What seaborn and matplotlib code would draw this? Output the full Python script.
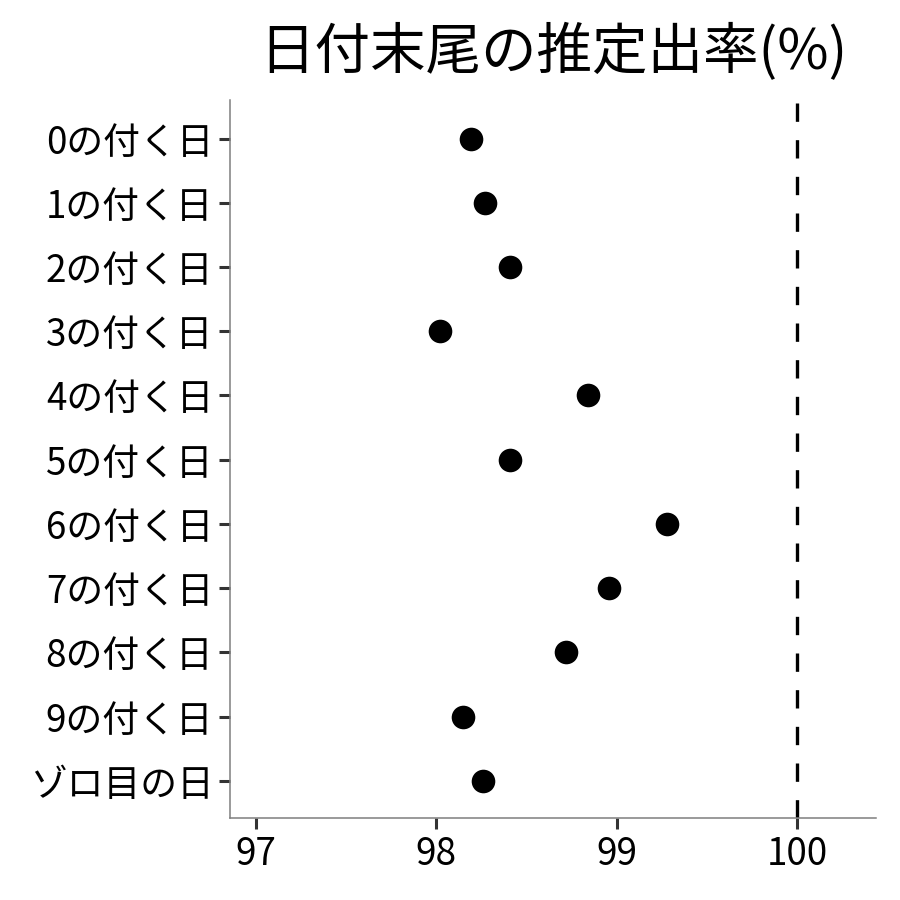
import matplotlib
matplotlib.use("Agg")
import matplotlib.pyplot as plt
import seaborn as sns
import pandas as pd

sns.set_style("white")
plt.rcParams['font.family'] = ['Noto Sans CJK JP', 'DejaVu Sans']

# data
days = ['0の付く日', '1の付く日', '2の付く日', '3の付く日', '4の付く日',
        '5の付く日', '6の付く日', '7の付く日', '8の付く日', '9の付く日', 'ゾロ目の日']
rate = [98.19, 98.27, 98.41, 98.02, 98.84, 98.41, 99.28, 98.96, 98.72, 98.15, 98.26]
xticks = [97, 98, 99, 100]

df = pd.DataFrame({'day': days, 'rate': rate})

fig = plt.figure(figsize=(9, 9), dpi=100)
ax = fig.add_axes([0.2556, 0.0911, 0.7177, 0.7978])

sns.stripplot(data=df, x='rate', y='day', order=days, jitter=False,
              color='black', size=17, linewidth=0, ax=ax)
ax.axvline(100, color='black', lw=2.4, linestyle=(0, (5.5, 5.5)))

ax.set_xlim(96.856, 100.438)
ax.set_ylim(10.58, -0.6)
ax.set_xticks(xticks)
ax.set_xticklabels([str(t) for t in xticks])
ax.set_xlabel('')
ax.set_ylabel('')
ax.set_title('日付末尾の推定出率(%)', fontsize=40, pad=22, color='black')

for s in ['top', 'right']:
    ax.spines[s].set_visible(False)
for s in ['left', 'bottom']:
    ax.spines[s].set_color('#7f7f7f')
    ax.spines[s].set_linewidth(1.1)
ax.tick_params(axis='both', length=8, width=2.2, color='#333333',
               labelsize=26.5, labelcolor='black', pad=4, left=True, bottom=True)

fig.savefig('out.png', dpi=100)
